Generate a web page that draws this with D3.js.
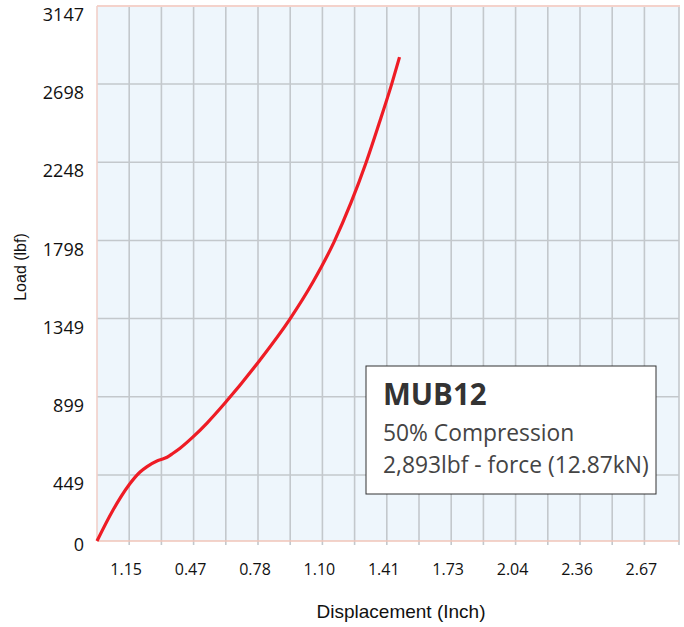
<!DOCTYPE html>
<html><head><meta charset="utf-8">
<script src="https://cdn.jsdelivr.net/npm/d3@7"></script>
<style>html,body{margin:0;padding:0;background:#fff;}svg{display:block;}</style>
</head><body>
<svg id="chart" width="684" height="627"></svg>
<script>
// ---- data ----
const displacement = [0, 0.078, 0.155, 0.209, 0.243, 0.291, 0.311, 0.340, 0.369, 0.403, 0.466, 0.534, 0.621, 0.791, 0.936, 1.048, 1.150, 1.232, 1.305, 1.368, 1.431, 1.468];
const load =         [0, 211,   381,   466,   497,   530,   538,   551,   574,   603,   668,   748,   863,   1111,  1346,  1559,  1789,  2014,  2244,  2468,  2702,  2853];
const yTicks = [0, 449, 899, 1349, 1798, 2248, 2698, 3147];
const xTickValues = [0.15625, 0.46875, 0.78125, 1.09375, 1.40625, 1.71875, 2.03125, 2.34375, 2.65625];
const xTickLabels = ["1.15", "0.47", "0.78", "1.10", "1.41", "1.73", "2.04", "2.36", "2.67"];
const xGridValues = d3.range(1, 18).map(i => i * 0.15625);
const annotation = ["MUB12", "50% Compression", "2,893lbf - force (12.87kN)"];

// ---- layout ----
const L = 97, R = 679, T = 6, B = 541;
const x = d3.scaleLinear().domain([0, 2.8125]).range([L, L + 32.2 * 18]);
const y = d3.scaleLinear().domain([0, 449, 3147]).range([B, 475, T]);

const svg = d3.select("#chart");
svg.append("rect").attr("x", L).attr("y", T).attr("width", R - L).attr("height", B - T).attr("fill", "#eef6fc");

const grid = svg.append("g");
xGridValues.forEach(v => {
  grid.append("line").attr("x1", x(v)).attr("x2", x(v)).attr("y1", T).attr("y2", B + 4)
    .attr("stroke", "#c3c8cc").attr("stroke-width", 1.6);
});
grid.append("line").attr("x1", R).attr("x2", R).attr("y1", T).attr("y2", B + 4)
  .attr("stroke", "#c3c8cc").attr("stroke-width", 1.6);
yTicks.forEach((v, i) => {
  if (i === 0 || i === yTicks.length - 1) return;
  grid.append("line").attr("x1", L).attr("x2", R).attr("y1", y(v)).attr("y2", y(v))
    .attr("stroke", "#c3c8cc").attr("stroke-width", 1.6);
});
// borders
svg.append("line").attr("x1", L).attr("x2", R + 1).attr("y1", T).attr("y2", T).attr("stroke", "#f4d2cb").attr("stroke-width", 2);
svg.append("line").attr("x1", L).attr("x2", L).attr("y1", T).attr("y2", B).attr("stroke", "#f2d0c8").attr("stroke-width", 1.6);
svg.append("line").attr("x1", L).attr("x2", R).attr("y1", B).attr("y2", B).attr("stroke", "#f0c4b8").attr("stroke-width", 1.6);

// y tick labels
svg.append("g").selectAll("text").data(yTicks).join("text")
  .attr("x", 84).attr("y", d => y(d) + (d === 0 ? 10 : 15))
  .attr("text-anchor", "end").attr("font-family", "'Open Sans', sans-serif").attr("font-size", 18)
  .attr("fill", "#111").text(d => d);

// x tick labels
svg.append("g").selectAll("text").data(xTickValues).join("text")
  .attr("x", d => x(d) - 3).attr("y", 575)
  .attr("text-anchor", "middle").attr("font-family", "'Open Sans', sans-serif").attr("font-size", 16)
  .attr("fill", "#111").text((d, i) => xTickLabels[i]);

// axis titles
svg.append("text").attr("x", 401).attr("y", 618).attr("text-anchor", "middle")
  .attr("font-family", "'Liberation Sans', Arial, sans-serif").attr("font-size", 19).attr("fill", "#111")
  .text("Displacement (Inch)");
svg.append("text").attr("transform", "translate(26,267) rotate(-90)").attr("text-anchor", "middle")
  .attr("font-family", "'Liberation Sans', Arial, sans-serif").attr("font-size", 16).attr("fill", "#111")
  .text("Load (lbf)");

// curve
const pts = displacement.map((d, i) => [d, load[i]]);
const line = d3.line().x(d => x(d[0])).y(d => y(d[1])).curve(d3.curveMonotoneX);
svg.append("path").attr("d", line(pts)).attr("fill", "none").attr("stroke", "#ee1c25")
  .attr("stroke-width", 3.2).attr("stroke-linecap", "butt");

// annotation box
const box = svg.append("g");
box.append("rect").attr("x", 366).attr("y", 366).attr("width", 290).attr("height", 128)
  .attr("fill", "#fff").attr("stroke", "#333").attr("stroke-width", 1);
box.append("text").attr("x", 383).attr("y", 405).attr("font-family", "'Open Sans', sans-serif")
  .attr("font-weight", 700).attr("font-size", 29.5).attr("fill", "#333").text(annotation[0]);
box.append("text").attr("x", 383).attr("y", 441).attr("font-family", "'Open Sans', sans-serif")
  .attr("font-size", 22.8).attr("fill", "#444").text(annotation[1]);
box.append("text").attr("x", 383).attr("y", 473).attr("font-family", "'Open Sans', sans-serif")
  .attr("font-size", 22.8).attr("fill", "#444").text(annotation[2]);
</script>
</body></html>
